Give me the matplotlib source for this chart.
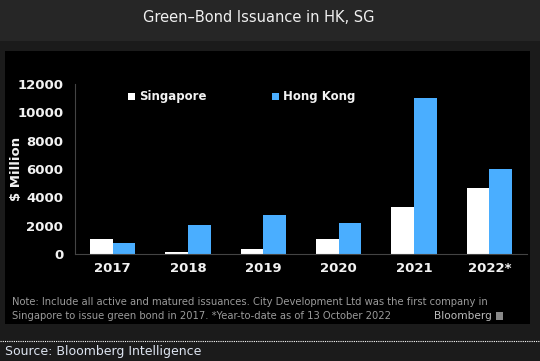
import matplotlib.pyplot as plt
from matplotlib.patches import Rectangle
import numpy as np

# dados
years = ["2017", "2018", "2019", "2020", "2021", "2022*"]
singapore = [1080, 120, 350, 1040, 3320, 4660]
hong_kong = [800, 2030, 2780, 2170, 11010, 6020]
yticks = [0, 2000, 4000, 6000, 8000, 10000, 12000]

W, H = 540, 361
fig = plt.figure(figsize=(W / 100, H / 100), dpi=100)
fig.patch.set_facecolor("#1b1b1b")

# faixa do titulo e painel preto (atras dos eixos)
fig.patches.append(Rectangle((0, (H - 41) / H), 1, 41 / H, transform=fig.transFigure,
                             facecolor="#262626", edgecolor="none", zorder=-2))
fig.patches.append(Rectangle((5 / W, (H - 324) / H), 525 / W, 273 / H, transform=fig.transFigure,
                             facecolor="black", edgecolor="none", zorder=-2))
fig.text(259 / W, 1 - 18 / H, "Green\u2013Bond Issuance in HK, SG", color="#f0f0f0",
         fontsize=10.5, ha="center", va="center")

ax = fig.add_axes([75 / W, (H - 254) / H, 452 / W, 170 / H])
ax.set_facecolor("none")

x = np.arange(len(years))
w = 0.3
ax.bar(x - w / 2, singapore, w, color="white", label="Singapore")
ax.bar(x + w / 2, hong_kong, w, color="#4aaeff", label="Hong Kong")

ax.set_xlim(-0.5, len(years) - 0.5)
ax.set_ylim(0, 12000)
ax.set_yticks(yticks)
ax.set_yticklabels([str(v) for v in yticks], fontsize=9.5, fontweight="bold", color="#f2f2f2")
ax.set_xticks(x)
ax.set_xticklabels(years, fontsize=9.5, fontweight="bold", color="#f2f2f2")
ax.tick_params(axis="y", length=0, pad=8.5)
ax.tick_params(axis="x", length=0, pad=6)
for s in ["top", "right"]:
    ax.spines[s].set_visible(False)
ax.spines["left"].set_color("#444444")
ax.spines["bottom"].set_color("#444444")
ax.set_ylabel("$ Million", fontsize=9.5, fontweight="bold", color="#f2f2f2")
ax.yaxis.set_label_coords(-0.114, 0.5)

leg = ax.legend(loc="upper left", bbox_to_anchor=(0.117, 0.962), ncol=2, frameon=False,
                borderaxespad=0, borderpad=0,
                handlelength=0.6, handleheight=0.6, handletextpad=0.35,
                columnspacing=5.5, prop={"weight": "bold", "size": 8.5})
for t in leg.get_texts():
    t.set_color("#f2f2f2")

# notas
fig.text(12 / W, 1 - 302 / H,
         "Note: Include all active and matured issuances. City Development Ltd was the first company in",
         color="#9a9a9a", fontsize=7.2, va="center")
fig.text(12 / W, 1 - 316 / H,
         "Singapore to issue green bond in 2017. *Year-to-date as of 13 October 2022",
         color="#9a9a9a", fontsize=7.2, va="center")
fig.text(492 / W, 1 - 316 / H, "Bloomberg", color="#bbbbbb", fontsize=7.6,
         ha="right", va="center")
fig.patches.append(Rectangle((496 / W, 1 - 320 / H), 7 / W, 8 / H, transform=fig.transFigure,
                             facecolor="#888888", edgecolor="none"))

fig.add_artist(plt.Line2D([0, 1], [1 - 341 / H, 1 - 341 / H], transform=fig.transFigure,
                          color="white", linestyle=(0, (1, 1)), linewidth=0.8))
fig.text(5 / W, 1 - 351 / H, "Source: Bloomberg Intelligence", color="#dde4f0",
         fontsize=9, va="center")

fig.savefig("out.png", dpi=100, facecolor=fig.get_facecolor())
